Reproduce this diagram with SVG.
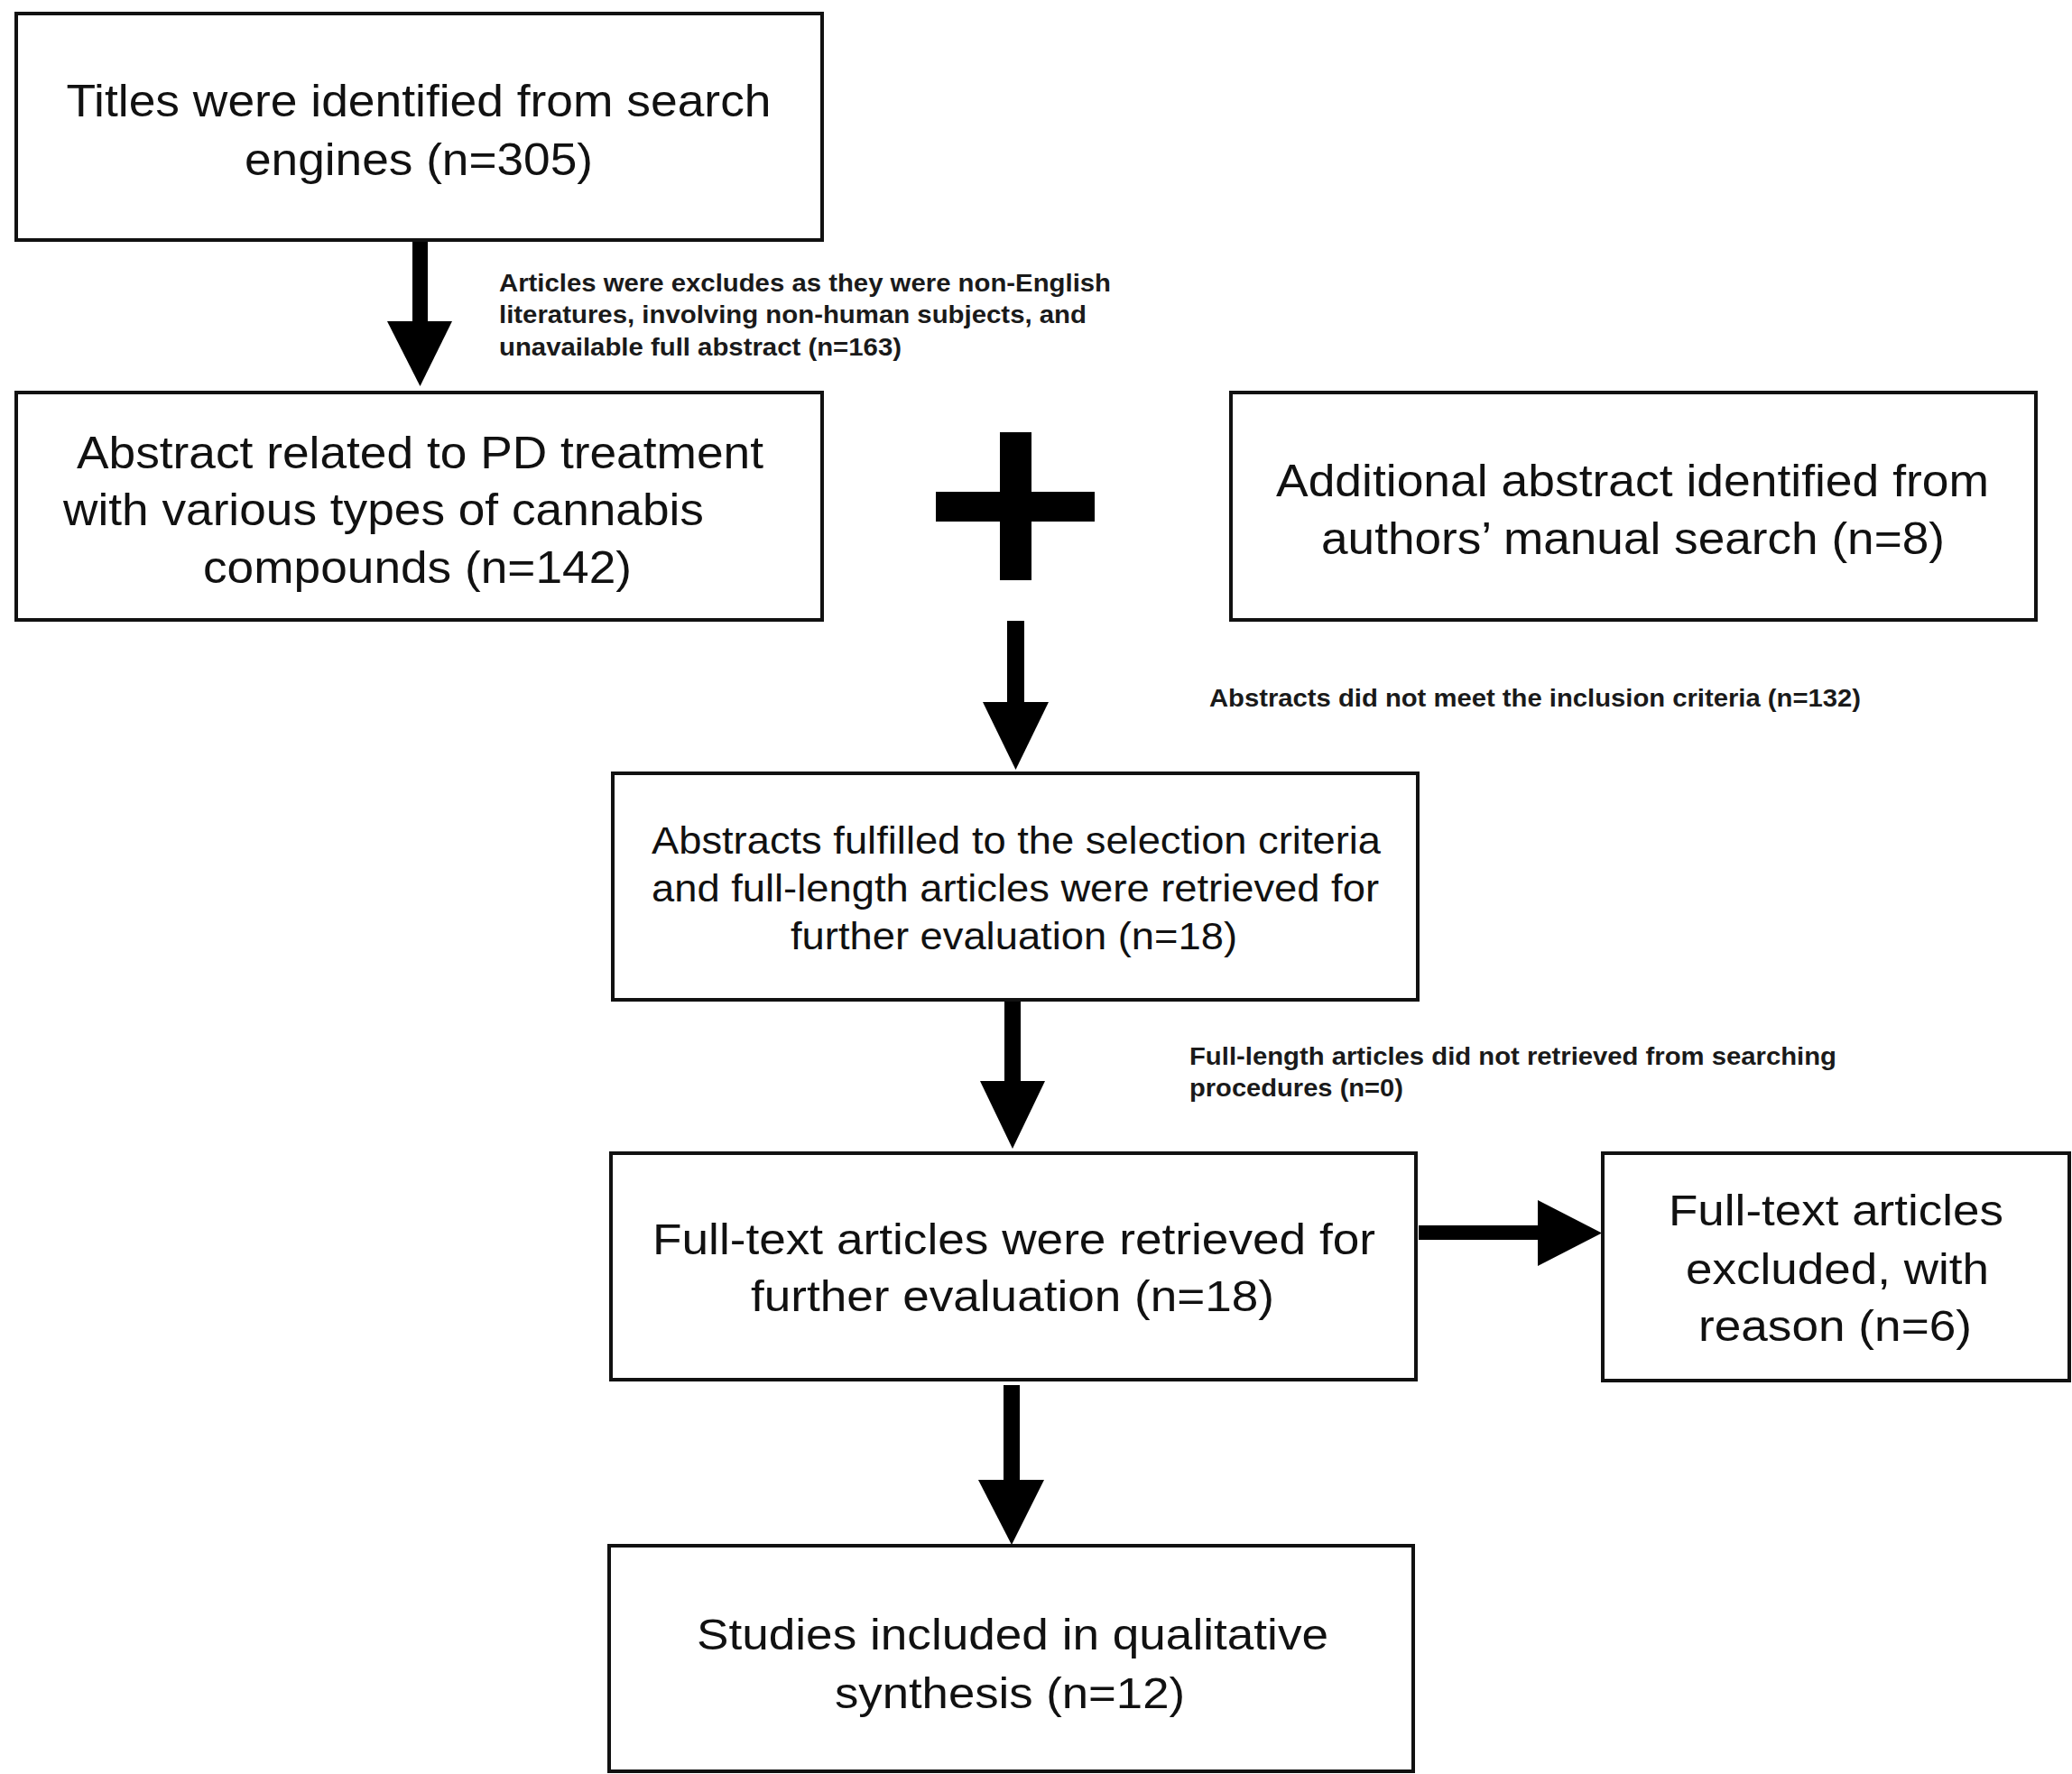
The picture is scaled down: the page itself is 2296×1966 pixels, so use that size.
<svg xmlns="http://www.w3.org/2000/svg" width="2296" height="1966" viewBox="0 0 2296 1966">
<style>
.box{fill:#fff;stroke:#111;stroke-width:4}
.t{font-family:"Liberation Sans",Arial,sans-serif;fill:#111;text-anchor:middle}
.s{font-family:"Liberation Sans",Arial,sans-serif;font-weight:bold;fill:#1a1a1a;font-size:27px}
.ar{fill:#000}
</style>
<rect width="2296" height="1966" fill="#fff"/>
<g id="connectors">
<g id="arrow1"><rect class="ar" x="457" y="266" width="17" height="92"/><polygon class="ar" points="429,356 501,356 465.5,428"/></g>
<g id="plus"><rect class="ar" x="1108" y="479" width="35" height="164"/><rect class="ar" x="1037" y="545" width="176" height="33"/></g>
<g id="arrow2"><rect class="ar" x="1116" y="688" width="19" height="92"/><polygon class="ar" points="1089,778 1162,778 1125.5,853"/></g>
<g id="arrow3"><rect class="ar" x="1113" y="1110" width="18" height="90"/><polygon class="ar" points="1086,1198 1158,1198 1122,1273"/></g>
<g id="arrow4"><rect class="ar" x="1572" y="1358" width="134" height="16"/><polygon class="ar" points="1704,1330 1704,1403 1775,1366.5"/></g>
<g id="arrow5"><rect class="ar" x="1112" y="1535" width="18" height="107"/><polygon class="ar" points="1084,1640 1157,1640 1121,1712"/></g>
</g>
<g id="n1"><rect class="box" x="18" y="15" width="893" height="251"/>
<text class="t" font-size="50" x="464" y="129" textLength="781" lengthAdjust="spacingAndGlyphs">Titles were identified from search</text>
<text class="t" font-size="50" x="464" y="194" textLength="386" lengthAdjust="spacingAndGlyphs">engines (n=305)</text></g>
<g id="n2"><rect class="box" x="18" y="435" width="893" height="252"/>
<text class="t" font-size="50" x="465.5" y="519" textLength="761" lengthAdjust="spacingAndGlyphs">Abstract related to PD treatment</text>
<text class="t" font-size="50" x="425" y="582" textLength="710" lengthAdjust="spacingAndGlyphs">with various types of cannabis</text>
<text class="t" font-size="50" x="462.5" y="646" textLength="475" lengthAdjust="spacingAndGlyphs">compounds (n=142)</text></g>
<g id="n3"><rect class="box" x="1364" y="435" width="892" height="252"/>
<text class="t" font-size="50" x="1809" y="550" textLength="790" lengthAdjust="spacingAndGlyphs">Additional abstract identified from</text>
<text class="t" font-size="50" x="1809.5" y="614" textLength="691" lengthAdjust="spacingAndGlyphs">authors’ manual search (n=8)</text></g>
<g id="n4"><rect class="box" x="679" y="857" width="892" height="251"/>
<text class="t" font-size="42" x="1126" y="946" textLength="808" lengthAdjust="spacingAndGlyphs">Abstracts fulfilled to the selection criteria</text>
<text class="t" font-size="42" x="1125" y="999" textLength="806" lengthAdjust="spacingAndGlyphs">and full-length articles were retrieved for</text>
<text class="t" font-size="42" x="1123.5" y="1052" textLength="495" lengthAdjust="spacingAndGlyphs">further evaluation (n=18)</text></g>
<g id="n5"><rect class="box" x="677" y="1278" width="892" height="251"/>
<text class="t" font-size="48" x="1123.5" y="1390" textLength="801" lengthAdjust="spacingAndGlyphs">Full-text articles were retrieved for</text>
<text class="t" font-size="48" x="1122" y="1453" textLength="580" lengthAdjust="spacingAndGlyphs">further evaluation (n=18)</text></g>
<g id="n6"><rect class="box" x="1776" y="1278" width="517" height="252"/>
<text class="t" font-size="48" x="2034.5" y="1358" textLength="371" lengthAdjust="spacingAndGlyphs">Full-text articles</text>
<text class="t" font-size="48" x="2036" y="1423" textLength="336" lengthAdjust="spacingAndGlyphs">excluded, with</text>
<text class="t" font-size="48" x="2033.5" y="1486" textLength="303" lengthAdjust="spacingAndGlyphs">reason (n=6)</text></g>
<g id="n7"><rect class="box" x="675" y="1713" width="891" height="250"/>
<text class="t" font-size="48" x="1122" y="1828" textLength="700" lengthAdjust="spacingAndGlyphs">Studies included in qualitative</text>
<text class="t" font-size="48" x="1119" y="1893" textLength="388" lengthAdjust="spacingAndGlyphs">synthesis (n=12)</text></g>
<g id="labels">
<text class="s" x="553" y="323" textLength="678" lengthAdjust="spacingAndGlyphs">Articles were excludes as they were non-English</text>
<text class="s" x="553" y="358" textLength="651" lengthAdjust="spacingAndGlyphs">literatures, involving non-human subjects, and</text>
<text class="s" x="553" y="394" textLength="446" lengthAdjust="spacingAndGlyphs">unavailable full abstract (n=163)</text>
<text class="s" x="1340" y="783" textLength="722" lengthAdjust="spacingAndGlyphs">Abstracts did not meet the inclusion criteria (n=132)</text>
<text class="s" x="1318" y="1180" textLength="717" lengthAdjust="spacingAndGlyphs">Full-length articles did not retrieved from searching</text>
<text class="s" x="1318" y="1215" textLength="237" lengthAdjust="spacingAndGlyphs">procedures (n=0)</text>
</g>
</svg>
